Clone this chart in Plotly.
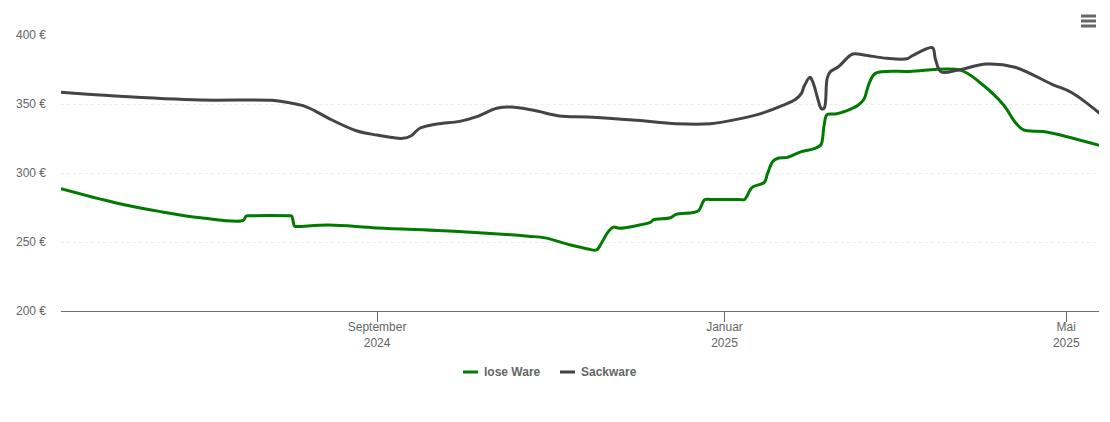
import plotly.graph_objects as go

lose_dates = [
    "2024-05-13", "2024-06-01", "2024-06-17", "2024-07-01", "2024-07-16", "2024-07-17", "2024-07-18", "2024-08-01", "2024-08-02",
    "2024-08-03", "2024-08-04", "2024-08-15", "2024-09-01", "2024-10-01", "2024-10-24", "2024-10-30",
    "2024-11-08", "2024-11-14", "2024-11-17", "2024-11-19", "2024-11-21", "2024-11-23", "2024-11-25",
    "2024-12-01", "2024-12-06", "2024-12-07", "2024-12-13", "2024-12-15", "2024-12-21", "2024-12-23",
    "2024-12-25", "2024-12-27", "2025-01-06", "2025-01-08", "2025-01-10", "2025-01-11", "2025-01-15", "2025-01-16", "2025-01-18",
    "2025-01-20", "2025-01-23", "2025-01-28", "2025-02-01", "2025-02-03", "2025-02-04", "2025-02-05",
    "2025-02-06", "2025-02-09", "2025-02-13", "2025-02-17", "2025-02-19", "2025-02-20", "2025-02-21",
    "2025-02-23", "2025-03-07", "2025-03-25", "2025-04-01", "2025-04-09", "2025-04-13", "2025-04-16",
    "2025-04-23", "2025-05-01", "2025-05-13",
]
lose_ware = [
    288.6, 278.5, 272, 267.6, 265.7, 268.8, 269, 269, 268.8,
    261.5, 261.3, 262.3, 260.2, 257.5, 254.2, 253,
    247.8, 245, 244.2, 250, 257, 260.8, 260,
    261.8, 264.3, 266, 267.6, 270, 271.4, 273,
    280.6, 280.8, 280.8, 280.8, 287.7, 290, 293.2, 299, 308.5,
    310.9, 311.3, 315.5, 317.3, 319, 321, 335,
    342.3, 342.8, 345.2, 349.3, 353.6, 360, 366,
    372.2, 373.6, 374.4, 365, 349.3, 337, 331.2,
    330, 326.5, 319.8,
]

sack_dates = [
    "2024-05-13", "2024-06-01", "2024-07-01", "2024-07-26", "2024-08-01", "2024-08-06", "2024-08-10", "2024-08-15", "2024-08-25", "2024-09-01",
    "2024-09-10", "2024-09-13", "2024-09-16", "2024-09-22", "2024-09-30", "2024-10-06", "2024-10-13",
    "2024-10-18", "2024-10-26", "2024-11-04", "2024-11-14", "2024-12-01", "2024-12-15", "2024-12-27",
    "2025-01-07", "2025-01-14", "2025-01-21", "2025-01-26", "2025-01-28", "2025-01-29", "2025-01-31",
    "2025-02-01", "2025-02-03", "2025-02-04", "2025-02-05", "2025-02-06", "2025-02-07", "2025-02-10",
    "2025-02-15", "2025-02-19", "2025-02-27", "2025-03-06", "2025-03-08", "2025-03-15", "2025-03-16",
    "2025-03-18", "2025-03-24", "2025-04-03", "2025-04-13", "2025-04-26", "2025-05-03", "2025-05-13",
]
sackware = [
    358.5, 355.8, 352.9, 352.7, 351, 348.8, 345.2, 339.6, 330.4, 327.5,
    325.1, 327, 332.4, 335.5, 337.4, 340.8, 346.9,
    347.8, 345.4, 341.3, 340.6, 338.2, 335.7, 335.7,
    339.6, 343.2, 348.6, 353.4, 357.7, 363, 369.3,
    366, 352, 346.6, 347, 368, 373, 377,
    386.2, 385.5, 383.1, 382.8, 385, 390.8, 383,
    373.4, 374.6, 379, 376.6, 364.3, 358.2, 342.8,
]

x_ticks = ["2024-09-01", "2025-01-01", "2025-05-01"]
x_labels = ["September<br>2024", "Januar<br>2025", "Mai<br>2025"]
y_ticks = [200, 250, 300, 350, 400]
y_labels = ["200 €", "250 €", "300 €", "350 €", "400 €"]

FONT = "Liberation Sans, Arial, sans-serif"
GREEN = "#007a00"
GRAY = "#434348"
TEXT = "#666666"


def px_x(px):
    return (px - 61) / 1038


def px_y(py):
    return (311 - py) / 276


fig = go.Figure()
fig.add_trace(go.Scatter(x=lose_dates, y=lose_ware, mode="lines", name="lose Ware",
                         line=dict(color=GREEN, width=3, shape="spline", smoothing=1.0)))
fig.add_trace(go.Scatter(x=sack_dates, y=sackware, mode="lines", name="Sackware",
                         line=dict(color=GRAY, width=3, shape="spline", smoothing=1.0)))

fig.update_layout(
    width=1110,
    height=422,
    margin=dict(l=61, r=11, t=35, b=111, autoexpand=False),
    paper_bgcolor="white",
    plot_bgcolor="white",
    font=dict(family=FONT, size=12, color=TEXT),
    hovermode="x unified",
    showlegend=False,
)
fig.update_xaxes(
    range=["2024-05-13", "2025-05-12 12:00"],
    tickmode="array",
    tickvals=x_ticks,
    ticktext=x_labels,
    ticks="outside",
    ticklen=10,
    tickcolor=TEXT,
    showgrid=False,
    showline=True,
    linecolor="#707070",
    linewidth=1,
    ticklabelstandoff=-5,
    tickfont=dict(size=12, color=TEXT),
)
fig.update_yaxes(
    range=[200, 400],
    tickmode="array",
    tickvals=y_ticks,
    ticktext=y_labels,
    showgrid=True,
    gridcolor="#ececec",
    griddash="dot",
    gridwidth=1,
    zeroline=False,
    showline=False,
    ticks="",
    ticklabelstandoff=14,
    tickfont=dict(size=12, color=TEXT),
)

# legend drawn by hand, plotly's own line sample is too long
for name, color, x0, x1, tx in [("lose Ware", GREEN, 463, 478, 482), ("Sackware", GRAY, 560, 575, 579)]:
    fig.add_shape(type="line", xref="paper", yref="paper", layer="above",
                  x0=px_x(x0), x1=px_x(x1), y0=px_y(372), y1=px_y(372),
                  line=dict(color=color, width=3))
    fig.add_annotation(text=name, xref="paper", yref="paper", x=px_x(tx), y=px_y(372),
                       xanchor="left", yanchor="middle", showarrow=False,
                       font=dict(family=FONT, size=12, color=TEXT, weight="bold"))

# export menu icon top right
for py in [16, 21, 26]:
    fig.add_shape(type="line", xref="paper", yref="paper", layer="above",
                  x0=px_x(1081), x1=px_x(1096), y0=px_y(py), y1=px_y(py),
                  line=dict(color=TEXT, width=3))

fig.write_html("out.html", config={"displayModeBar": False},
               post_script="document.body.style.margin='0';")
